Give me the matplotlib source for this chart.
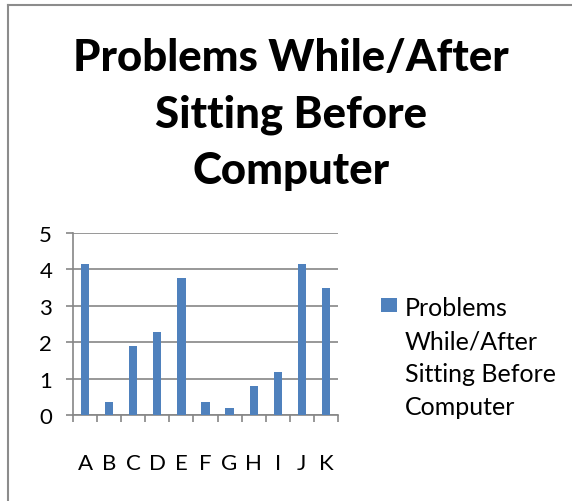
import matplotlib.pyplot as plt
from matplotlib.lines import Line2D
from matplotlib.patches import Rectangle
import numpy as np

categories = ["A", "B", "C", "D", "E", "F", "G", "H", "I", "J", "K"]
values = [4.15, 0.35, 1.9, 2.28, 3.75, 0.35, 0.18, 0.8, 1.18, 4.15, 3.48]
series_name = "Problems\nWhile/After\nSitting Before\nComputer"
title = "Problems While/After\nSitting Before\nComputer"

bar_color = "#4F81BD"
grid_color = "#868686"

plt.rcParams["font.family"] = ["Lato", "DejaVu Sans"]

fig = plt.figure(figsize=(5.72, 5.02), dpi=100)
ax = fig.add_axes([0.1276, 0.1713, 0.4633, 0.3626])

x = np.arange(len(categories))
ax.bar(x, values, width=0.345, color=bar_color, zorder=3)

ax.set_xlim(-0.5, len(categories) - 0.5)
ax.set_ylim(0, 5)
ax.set_yticks(range(6))
ax.yaxis.grid(True, color=grid_color, linewidth=1.2, zorder=0)

# category labels at the centres, tick marks between categories
ax.set_xticks(x)
ax.set_xticklabels(categories)
ax.set_xticks(np.arange(-0.5, len(categories)), minor=True)
ax.tick_params(axis="x", which="major", length=0, pad=27, labelsize=16)
ax.tick_params(axis="x", which="minor", length=5, width=1.2, color=grid_color)
ax.tick_params(axis="y", length=5, width=1.2, color=grid_color, pad=10, labelsize=16)

for side in ["top", "right"]:
    ax.spines[side].set_visible(False)
for side in ["left", "bottom"]:
    ax.spines[side].set_color(grid_color)
    ax.spines[side].set_linewidth(1.2)

fig.text(0.509, 1 - 38 / 502, title, ha="center", va="top",
         fontsize=31.5, fontweight="black", linespacing=1.49)

# legend: colour key plus the wrapped series name
fig.add_artist(Rectangle((381 / 572, 1 - 313 / 502), 16 / 572, 14 / 502,
                         transform=fig.transFigure, facecolor=bar_color,
                         edgecolor="none"))
fig.text(405 / 572, 1 - 297 / 502, series_name, ha="left", va="top",
         fontsize=18, linespacing=1.53)

# chart area border (top and left edges)
fig.add_artist(Line2D([8 / 572, 8 / 572], [0, 1 - 6 / 502],
                      transform=fig.transFigure, color="#8c8c8c", linewidth=1.5))
fig.add_artist(Line2D([8 / 572, 1], [1 - 6 / 502, 1 - 6 / 502],
                      transform=fig.transFigure, color="#8c8c8c", linewidth=1.5))

fig.savefig("out.png", dpi=100)
